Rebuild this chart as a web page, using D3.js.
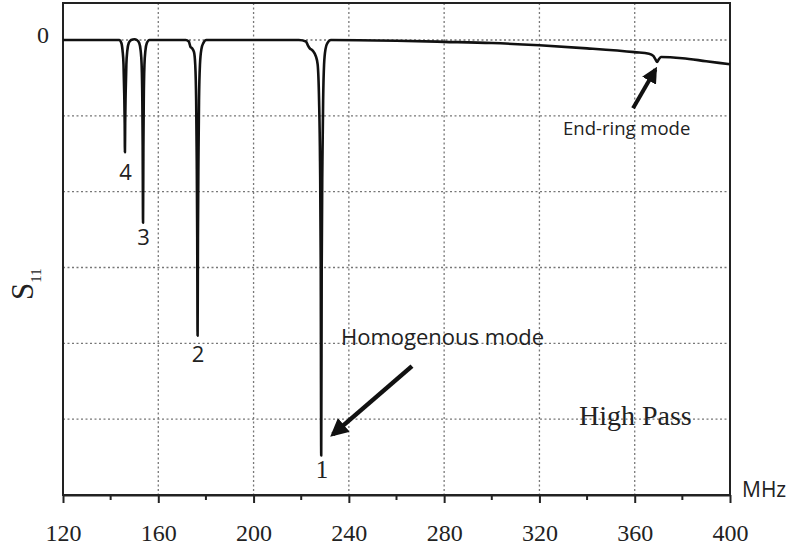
<!DOCTYPE html>
<html>
<head>
  <meta charset="UTF-8">
  <title>S11 High Pass</title>
  <script src="https://d3js.org/d3.v7.min.js"></script>
  <style>
    body { margin: 0; padding: 0; background: #fff; }
    svg { display: block; }
  </style>
</head>
<body>
<script>
  const width = 801;
  const height = 549;
  const SERIF = '"Liberation Serif", "Times New Roman", serif';
  const SANS = '"Open Sans", "Noto Sans", sans-serif';

  const freq = [
    120, 130, 140, 143.6, 144.5, 145.0, 145.4, 145.7, 145.9, 146.0, 146.1, 146.3, 146.6, 147.0, 147.6, 148.6,
    150, 151.0, 152.0, 152.6, 153.0, 153.3, 153.45, 153.6, 153.75, 153.9, 154.2, 154.6, 155.2, 156.3,
    165, 171.5, 172.8, 173.5, 174.2, 175.0, 175.5, 175.9, 176.15, 176.35, 176.5, 176.65, 176.85, 177.1, 177.5, 178.1, 178.9, 180.2,
    200, 219, 222, 222.8, 223.6, 224.8, 226.2, 226.9, 227.5, 227.9, 228.2, 228.4, 228.6, 228.9, 229.2, 229.6, 230.2, 231.0, 232.5,
    260, 280, 300, 320, 340, 360, 366, 367.8, 368.8, 369.4, 370.0, 371, 380, 390, 400
  ];
  const s11 = [
    0, 0, 0, 0, -0.2, -0.7, -1.6, -3.5, -5.5, -7.4, -5.5, -3.5, -1.6, -0.7, -0.2, 0,
    0.05, 0, -0.2, -0.7, -1.6, -4, -7, -12.05, -7, -4, -1.6, -0.7, -0.2, 0,
    0, 0, -0.1, -0.45, -0.55, -0.8, -1.6, -4, -8, -13, -19.5, -13, -8, -4, -1.6, -0.6, -0.2, 0,
    0, 0, -0.1, -0.35, -0.55, -0.7, -1.1, -1.6, -4, -8, -15, -27.4, -15, -8, -4, -1.6, -0.6, -0.2, 0,
    -0.05, -0.12, -0.2, -0.35, -0.55, -0.8, -0.9, -1.05, -1.3, -1.45, -1.3, -1.12, -1.2, -1.4, -1.6
  ];

  const xTicks = [120, 160, 200, 240, 280, 320, 360, 400];
  const xMinor = [140, 180, 220, 260, 300, 340, 380];
  const yGrid = [0, -5, -10, -15, -20, -25];

  const modeLabels = ["4", "3", "2", "1"];
  const modeFreq = [146.0, 153.6, 176.5, 228.5];
  const modeLabelY = [-9.2, -13.5, -21.2, -28.9];

  const x = d3.scaleLinear().domain([120, 400]).range([63, 730]);
  const y = d3.scaleLinear().domain([-30, 2.44]).range([495, 3]);

  const svg = d3.select("body").append("svg")
    .attr("width", width)
    .attr("height", height);

  // dotted grid
  svg.append("g").selectAll("line")
    .data(yGrid).enter().append("line")
    .attr("x1", x(120)).attr("x2", x(400))
    .attr("y1", d => y(d)).attr("y2", d => y(d))
    .attr("stroke", "#777").attr("stroke-width", 1.3).attr("stroke-dasharray", "2,2.5");

  svg.append("g").selectAll("line")
    .data(xTicks.slice(1, -1)).enter().append("line")
    .attr("x1", d => x(d)).attr("x2", d => x(d))
    .attr("y1", y(2.44)).attr("y2", y(-30))
    .attr("stroke", "#777").attr("stroke-width", 1.3).attr("stroke-dasharray", "2,2.5");

  // frame
  svg.append("rect")
    .attr("x", x(120)).attr("y", y(2.44))
    .attr("width", x(400) - x(120)).attr("height", y(-30) - y(2.44))
    .attr("fill", "none").attr("stroke", "#222").attr("stroke-width", 2);

  // x axis
  const xAxis = svg.append("g")
    .attr("transform", `translate(0,${y(-30)})`)
    .call(d3.axisBottom(x).tickValues(xTicks).tickSizeInner(8).tickSizeOuter(0).tickPadding(21));
  xAxis.attr("font-family", null).attr("font-size", null);
  xAxis.select(".domain").attr("stroke", "#222").attr("stroke-width", 2);
  xAxis.selectAll(".tick line").attr("stroke", "#222").attr("stroke-width", 2);
  xAxis.selectAll(".tick text")
    .style("font-family", SERIF).style("font-size", "24px").attr("fill", "#222");

  svg.append("g").selectAll("line")
    .data(xMinor).enter().append("line")
    .attr("x1", d => x(d)).attr("x2", d => x(d))
    .attr("y1", y(-30)).attr("y2", y(-30) + 5)
    .attr("stroke", "#222").attr("stroke-width", 2);

  // y label "0"
  svg.append("text")
    .style("font-family", SERIF).style("font-size", "24px").attr("fill", "#222")
    .attr("x", x(120) - 20).attr("y", y(0) + 3)
    .attr("text-anchor", "middle")
    .text("0");

  // S11 axis title
  const yTitle = svg.append("text")
    .style("font-family", SERIF).attr("fill", "#222")
    .attr("transform", `translate(33,300) rotate(-90)`)
    .style("font-size", "31px");
  yTitle.append("tspan").text("S");
  yTitle.append("tspan").attr("dy", 8).style("font-size", "15px").text("11");

  // trace
  const pts = freq.map((f, i) => [f, s11[i]]);
  svg.append("path")
    .datum(pts)
    .attr("fill", "none")
    .attr("stroke", "#111")
    .attr("stroke-width", 2.6)
    .attr("stroke-linejoin", "round")
    .attr("d", d3.line().x(d => x(d[0])).y(d => y(d[1])).curve(d3.curveMonotoneX));

  // mode numbers
  svg.append("g").selectAll("text")
    .data(modeLabels).enter().append("text")
    .style("font-family", (d, i) => i === 3 ? SERIF : SANS)
    .style("font-size", (d, i) => i === 3 ? "25px" : "22px")
    .attr("fill", "#222")
    .attr("x", (d, i) => x(modeFreq[i]) + 0.5)
    .attr("y", (d, i) => y(modeLabelY[i]))
    .attr("text-anchor", "middle")
    .text(d => d);

  // arrows
  const defs = svg.append("defs");
  defs.append("marker").attr("id", "head")
    .attr("viewBox", "0 0 10 10").attr("refX", 8).attr("refY", 5)
    .attr("markerWidth", 4).attr("markerHeight", 4).attr("orient", "auto")
    .append("path").attr("d", "M0,0 L10,5 L0,10 Z").attr("fill", "#111");

  const arrows = [
    { from: [266.5, -21.5], to: [233.3, -26.0], w: 4.5 },
    { from: [359.3, -4.5], to: [368.7, -1.95], w: 4 }
  ];
  svg.append("g").selectAll("line")
    .data(arrows).enter().append("line")
    .attr("x1", d => x(d.from[0])).attr("y1", d => y(d.from[1]))
    .attr("x2", d => x(d.to[0])).attr("y2", d => y(d.to[1]))
    .attr("stroke", "#111").attr("stroke-width", d => d.w)
    .attr("marker-end", "url(#head)");

  // annotations
  svg.append("text").style("font-family", SANS).style("font-size", "22px").attr("fill", "#222")
    .attr("x", x(236.7)).attr("y", y(-20.1))
    .text("Homogenous mode");

  svg.append("text").style("font-family", SANS).style("font-size", "18.5px").attr("fill", "#222")
    .attr("x", x(329.9)).attr("y", y(-6.27))
    .text("End-ring mode");

  svg.append("text").style("font-family", SERIF).style("font-size", "28px").attr("fill", "#222")
    .attr("x", x(336.6)).attr("y", y(-25.4))
    .text("High Pass");

  svg.append("text").style("font-family", SANS).style("font-size", "21px").attr("fill", "#222")
    .attr("x", x(400) + 12).attr("y", y(-30) + 2)
    .text("MHz");
</script>
</body>
</html>
